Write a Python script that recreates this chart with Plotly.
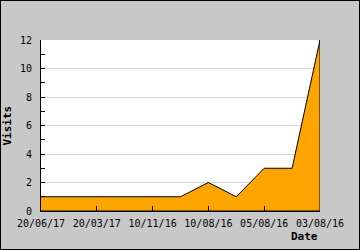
import plotly.graph_objects as go

# data (newest at left, as in the reference)
point_index = [0, 1, 2, 3, 4, 5, 6, 7, 8, 9, 10]
visits = [1, 1, 1, 1, 1, 1, 2, 1, 3, 3, 12]
tick_positions = [0, 2, 4, 6, 8, 10]
tick_labels = ["20/06/17", "20/03/17", "10/11/16", "10/08/16", "05/08/16", "03/08/16"]

W, H = 360, 250
L, R, T, B = 41, 40, 40, 39
pw, ph = W - L - R, H - T - B

# closed outline of the area (down to the baseline at both ends)
xs = point_index + [point_index[-1], point_index[0]]
ys = visits + [0, 0]

fig = go.Figure()
fig.add_trace(go.Scatter(
    x=xs, y=ys, mode="lines", fill="toself", fillcolor="#FFA500",
    line=dict(color="black", width=1), hoverinfo="skip", showlegend=False,
))

font = dict(family="DejaVu Sans Mono", size=10, color="black")

fig.update_layout(
    width=W, height=H,
    margin=dict(l=L, r=R, t=T, b=B, pad=0),
    paper_bgcolor="#c8c8c8", plot_bgcolor="white",
    font=font, showlegend=False,
    xaxis=dict(
        range=[point_index[0], point_index[-1]], tickvals=tick_positions, ticktext=tick_labels,
        ticks="inside", ticklen=5, tickcolor="black", showgrid=False, zeroline=False,
        showline=True, linecolor="black", linewidth=1, tickfont=font, fixedrange=True,
        ticklabelstandoff=3,
    ),
    yaxis=dict(
        range=[0, 12], dtick=2, ticks="inside", ticklen=4, tickcolor="black",
        showgrid=True, gridcolor="#d9d9d9", gridwidth=1, zeroline=False,
        showline=True, linecolor="black", linewidth=1, tickfont=font,
        minor=dict(dtick=1, ticks="inside", ticklen=4, tickcolor="black", showgrid=False),
        ticklabelstandoff=6, fixedrange=True,
    ),
    annotations=[
        dict(text="<b>Visits</b>", xref="paper", yref="paper", x=-34 / pw, y=0.5,
             xanchor="center", yanchor="middle", textangle=-90, showarrow=False,
             font=dict(family="DejaVu Sans Mono", size=11, color="black")),
        dict(text="<b>Date</b>", xref="paper", yref="paper", x=1, y=-25 / ph,
             xanchor="right", yanchor="middle", showarrow=False,
             font=dict(family="DejaVu Sans Mono", size=11, color="black")),
    ],
    shapes=[dict(type="rect", xref="paper", yref="paper",
                 x0=-L / pw, x1=1 + R / pw, y0=-B / ph, y1=1 + T / ph,
                 line=dict(color="black", width=2), layer="above")],
)

fig.write_html("out.html")
